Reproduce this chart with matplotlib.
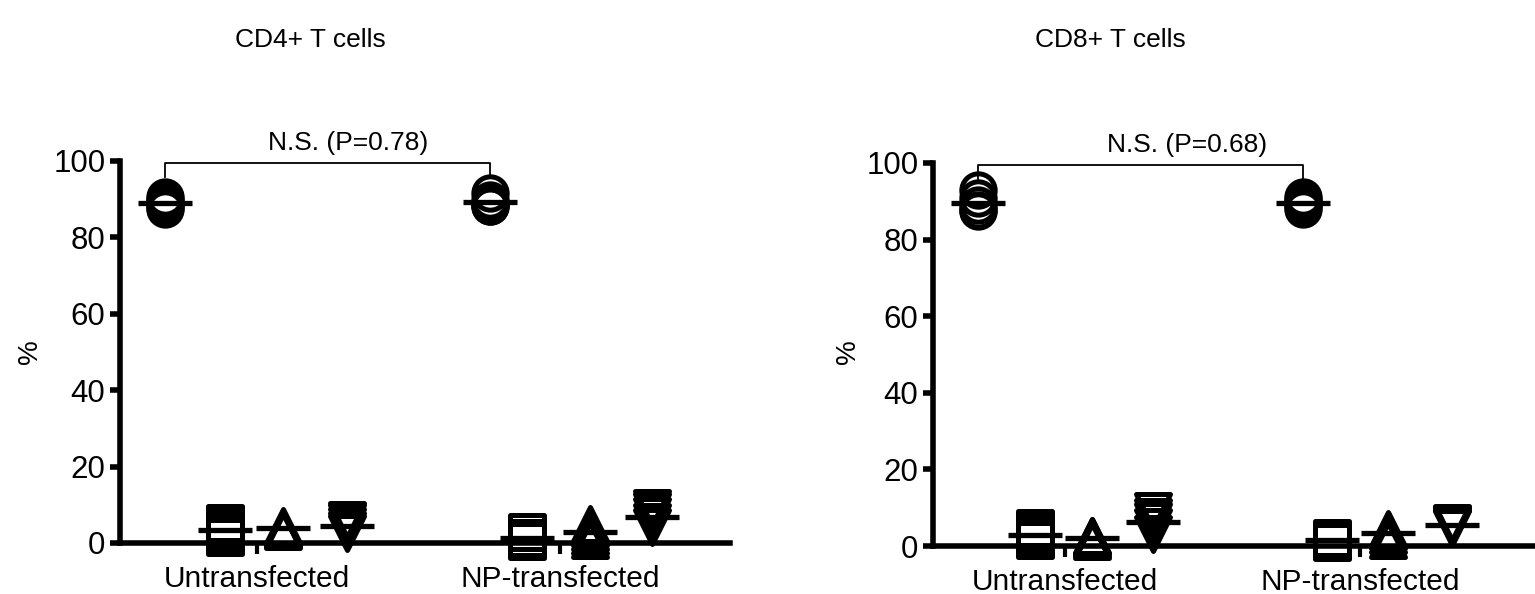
import matplotlib
matplotlib.use("Agg")
import matplotlib.pyplot as plt
from matplotlib.markers import MarkerStyle
import numpy as np

plt.rcParams['font.family'] = ['Liberation Sans', 'DejaVu Sans']

# data, % of cells
groups = ['Untransfected', 'NP-transfected']
series = ['circle', 'square', 'triangle', 'invtriangle']

cd4_circle = [[90.6, 89.9, 89.0, 88.0, 87.4], [91.6, 89.8, 88.8, 88.3, 88.2]]
cd4_square = [[5.3, 4.2, 3.4, 2.2, 1.6], [3.0, 1.2, 0.9, 0.8, 0.6]]
cd4_triangle = [[4.5, 4.0, 3.8, 3.5, 3.2], [5.0, 3.8, 3.0, 1.8, 0.8]]
cd4_invtri = [[6.0, 5.5, 4.5, 3.5, 2.5], [9.2, 8.5, 7.0, 5.5, 4.2]]

cd8_circle = [[93.0, 90.8, 89.0, 87.8, 87.4], [91.1, 90.3, 89.5, 88.7, 88.0]]
cd8_square = [[4.7, 3.5, 2.8, 2.0, 1.6], [2.0, 1.8, 1.5, 1.2, 1.0]]
cd8_triangle = [[2.6, 2.5, 2.3, 1.8, 1.3], [4.4, 4.2, 3.8, 3.0, 1.6]]
cd8_invtri = [[9.1, 7.5, 6.5, 5.0, 3.1], [6.0, 5.8, 5.4, 5.0, 4.6]]

titles = ['CD4+ T cells', 'CD8+ T cells']
pvals = ['N.S. (P=0.78)', 'N.S. (P=0.68)']

# layout (1 x unit = 100 px)
W, H = 1535, 594
panels = [
    dict(box=(120, 161, 730, 543), xmax=6.10, centers=[1.37, 4.40],
         offs=[[-0.92, -0.32, 0.26, 0.90], [-0.70, -0.33, 0.30, 0.92]],
         text_x=2.28, title_x=310, ylab_x=30),
    dict(box=(933, 163, 1535, 546), xmax=6.02, centers=[1.32, 4.27],
         offs=[[-0.87, -0.30, 0.27, 0.88], [-0.57, -0.28, 0.28, 0.92]],
         text_x=2.54, title_x=1110, ylab_x=848),
]
markers = {'circle': 'o', 'square': 's', 'triangle': '^', 'invtriangle': 'v'}
msizes = {'circle': 24, 'square': 24, 'triangle': 25, 'invtriangle': 25}

data = [
    {'circle': cd4_circle, 'square': cd4_square, 'triangle': cd4_triangle, 'invtriangle': cd4_invtri},
    {'circle': cd8_circle, 'square': cd8_square, 'triangle': cd8_triangle, 'invtriangle': cd8_invtri},
]

fig = plt.figure(figsize=(W / 100, H / 100), dpi=100)

for p, d, title, pv in zip(panels, data, titles, pvals):
    x0, y0, x1, y1 = p['box']
    ax = fig.add_axes([x0 / W, 1 - y1 / H, (x1 - x0) / W, (y1 - y0) / H])
    ax.set_xlim(0, p['xmax'])
    ax.set_ylim(0, 100)

    for gi, c in enumerate(p['centers']):
        for si, s in enumerate(series):
            vals = d[s][gi]
            x = c + p['offs'][gi][si]
            ax.plot([x] * len(vals), vals, linestyle='none',
                    marker=MarkerStyle(markers[s], joinstyle='round'),
                    ms=msizes[s], mfc='none', mec='black', mew=3.6, clip_on=False, zorder=3)
            m = np.mean(vals)
            ax.plot([x - 0.27, x + 0.27], [m, m], color='black', lw=3.8,
                    solid_capstyle='butt', clip_on=False, zorder=4)

    # bracket between the circle groups
    xa = p['centers'][0] + p['offs'][0][0]
    xb = p['centers'][1] + p['offs'][1][0]
    ax.plot([xa, xa, xb, xb], [95.8, 99.6, 99.6, 95.8], color='black', lw=1.3,
            clip_on=False, zorder=5)
    ax.text(p['text_x'], 101.5, pv, ha='center', va='bottom', fontsize=19)

    for side in ['top', 'right']:
        ax.spines[side].set_visible(False)
    for side in ['left', 'bottom']:
        ax.spines[side].set_linewidth(4)
        ax.spines[side].set_zorder(2.5)
    ax.set_yticks([0, 20, 40, 60, 80, 100])
    ax.tick_params(axis='y', length=7.5, width=4, labelsize=22.5, pad=3)
    ax.set_xticks(p['centers'])
    ax.set_xticklabels(groups)
    ax.tick_params(axis='x', length=8, width=3, labelsize=21.5, pad=8)

    fig.text(p['title_x'] / W, 1 - 40 / H, title, ha='center', va='center', fontsize=19)
    fig.text(p['ylab_x'] / W, 1 - 352 / H, '%', ha='center', va='center',
             rotation=90, fontsize=20)

fig.savefig('out.png', dpi=100)
